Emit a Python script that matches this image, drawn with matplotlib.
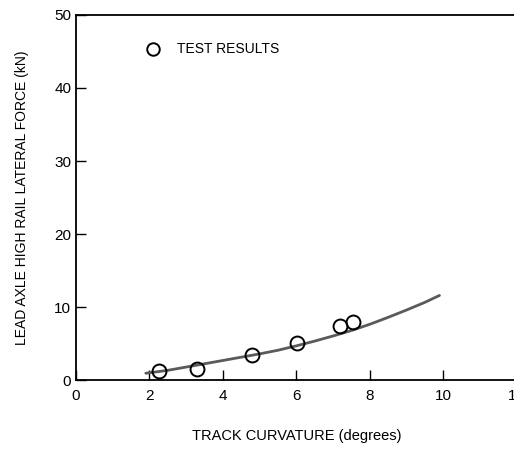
import matplotlib
matplotlib.use("Agg")
import matplotlib.pyplot as plt

plt.rcParams['font.family'] = ['Liberation Sans Narrow', 'Liberation Sans', 'DejaVu Sans']

# Measured lateral force on the high rail vs. track curvature
test_curvature = [2.27, 3.3, 4.8, 6.03, 7.2, 7.55]
test_force = [1.2, 1.6, 3.4, 5.1, 7.4, 7.9]

# Predicted trend
curve_curvature = [1.9, 2.5, 3.0, 3.5, 4.0, 4.5, 5.0, 5.5, 6.0, 6.5, 7.0, 7.5, 8.0, 8.5, 9.0, 9.5, 9.9]
curve_force = [0.95, 1.35, 1.8, 2.25, 2.7, 3.15, 3.6, 4.1, 4.7, 5.35, 6.05, 6.8, 7.65, 8.6, 9.6, 10.65, 11.6]

x_ticks = [0, 2, 4, 6, 8, 10, 12]
y_ticks = [0, 10, 20, 30, 40, 50]

fig = plt.figure(figsize=(5.14, 4.51), dpi=100)
ax = fig.add_axes([0.148, 0.157, 0.857, 0.810])

ax.plot(curve_curvature, curve_force, color='#5a5a5a', lw=2.0, zorder=2,
        solid_capstyle='round', solid_joinstyle='round')
ax.plot(test_curvature, test_force, 'o', mfc='none', mec='black', ms=10, mew=1.4, zorder=3)

ax.set_xlim(0, 12)
ax.set_ylim(0, 50)
ax.set_xticks(x_ticks)
ax.set_yticks(y_ticks)
ax.tick_params(direction='in', length=7, width=1, labelsize=11)
ax.tick_params(axis='x', pad=6)
ax.spines['right'].set_visible(False)
for s in ['left', 'bottom', 'top']:
    ax.spines[s].set_linewidth(1.3)

ax.set_xlabel('TRACK CURVATURE (degrees)', fontsize=10.5, labelpad=19)
ax.set_ylabel('LEAD AXLE HIGH RAIL LATERAL FORCE (kN)', fontsize=10, labelpad=18)

# Legend entry
ax.plot([2.1], [45.3], 'o', mfc='none', mec='black', ms=9, mew=1.4, clip_on=False)
ax.text(2.75, 45.3, 'TEST RESULTS', fontsize=10, va='center', ha='left')

fig.savefig('out.png', dpi=100)
